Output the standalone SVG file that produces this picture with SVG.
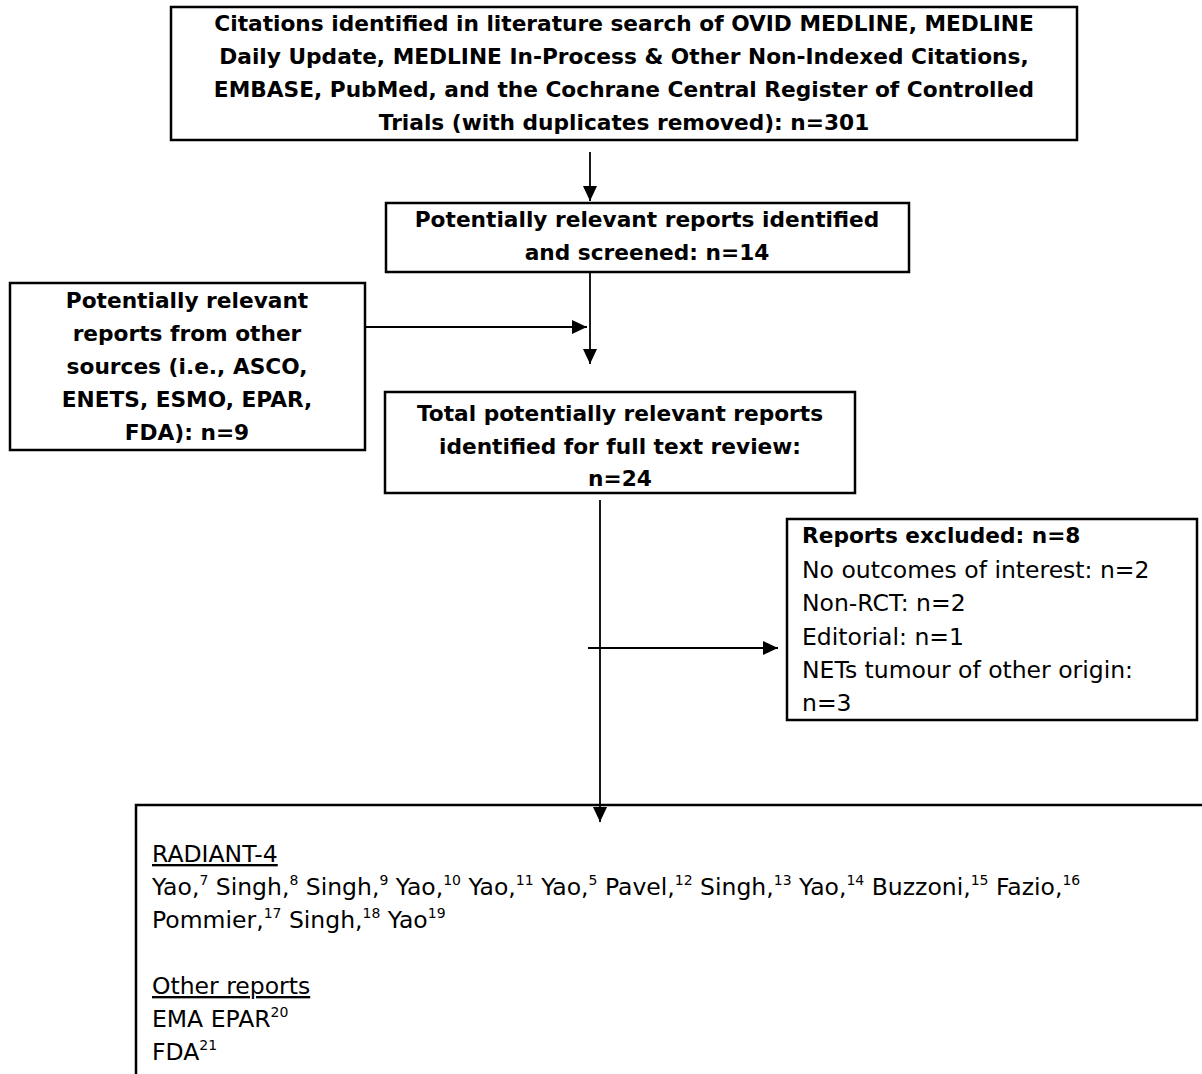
<svg xmlns="http://www.w3.org/2000/svg" width="1202" height="1074" viewBox="0 0 1202 1074">
<defs>
<marker id="ah" markerWidth="15" markerHeight="14" refX="15" refY="7" orient="auto" markerUnits="userSpaceOnUse"><path d="M0,0 L15,7 L0,14 z" fill="#000"/></marker>
<style>
.box{fill:#fff;stroke:#000;stroke-width:2.5}
.t{font-family:"DejaVu Sans",sans-serif;font-size:23.5px;fill:#000}
.b{font-weight:bold;font-size:21.7px;text-anchor:middle}
.sup{font-size:14px}
.c{stroke:#000;stroke-width:1.8;fill:none}
</style>
</defs>
<rect width="1202" height="1074" fill="#fff"/>
<g id="connectors">
<line class="c" x1="590" y1="152" x2="590" y2="201" marker-end="url(#ah)"/>
<line class="c" x1="590" y1="272" x2="590" y2="364" marker-end="url(#ah)"/>
<line class="c" x1="354" y1="327" x2="587" y2="327" marker-end="url(#ah)"/>
<line class="c" x1="600" y1="500" x2="600" y2="822" marker-end="url(#ah)"/>
<line class="c" x1="588" y1="648" x2="778" y2="648" marker-end="url(#ah)"/>
</g>
<g id="n1">
<rect class="box" x="171" y="7" width="906" height="133"/>
<text class="t b"><tspan x="624" y="31">Citations identified in literature search of OVID MEDLINE, MEDLINE</tspan><tspan x="624" y="64">Daily Update, MEDLINE In-Process &amp; Other Non-Indexed Citations,</tspan><tspan x="624" y="97">EMBASE, PubMed, and the Cochrane Central Register of Controlled</tspan><tspan x="624" y="130">Trials (with duplicates removed): n=301</tspan></text>
</g>
<g id="n2">
<rect class="box" x="386" y="203" width="523" height="69"/>
<text class="t b"><tspan x="647" y="227">Potentially relevant reports identified</tspan><tspan x="647" y="260">and screened: n=14</tspan></text>
</g>
<g id="n3">
<rect class="box" x="10" y="283" width="355" height="167"/>
<text class="t b"><tspan x="187" y="308">Potentially relevant</tspan><tspan x="187" y="341">reports from other</tspan><tspan x="187" y="374">sources (i.e., ASCO,</tspan><tspan x="187" y="407">ENETS, ESMO, EPAR,</tspan><tspan x="187" y="440">FDA): n=9</tspan></text>
</g>
<g id="n4">
<rect class="box" x="385" y="392" width="470" height="101"/>
<text class="t b"><tspan x="620" y="421">Total potentially relevant reports</tspan><tspan x="620" y="454">identified for full text review:</tspan><tspan x="620" y="486">n=24</tspan></text>
</g>
<g id="n5">
<rect class="box" x="787" y="519" width="410" height="201"/>
<text class="t"><tspan x="802" y="543" font-weight="bold" font-size="21.7px">Reports excluded: n=8</tspan><tspan x="802" y="578">No outcomes of interest: n=2</tspan><tspan x="802" y="611">Non-RCT: n=2</tspan><tspan x="802" y="645">Editorial: n=1</tspan><tspan x="802" y="678">NETs tumour of other origin:</tspan><tspan x="802" y="711">n=3</tspan></text>
</g>
<g id="n6">
<path d="M1202,805 H136 V1074" class="c" style="stroke-width:2.5"/>
<text class="t" x="152" y="862" text-decoration="underline">RADIANT-4</text>
<text class="t" x="152" y="895">Yao,<tspan class="sup" dy="-10">7</tspan><tspan dy="10"> Singh,</tspan><tspan class="sup" dy="-10">8</tspan><tspan dy="10"> Singh,</tspan><tspan class="sup" dy="-10">9</tspan><tspan dy="10"> Yao,</tspan><tspan class="sup" dy="-10">10</tspan><tspan dy="10"> Yao,</tspan><tspan class="sup" dy="-10">11</tspan><tspan dy="10"> Yao,</tspan><tspan class="sup" dy="-10">5</tspan><tspan dy="10"> Pavel,</tspan><tspan class="sup" dy="-10">12</tspan><tspan dy="10"> Singh,</tspan><tspan class="sup" dy="-10">13</tspan><tspan dy="10"> Yao,</tspan><tspan class="sup" dy="-10">14</tspan><tspan dy="10"> Buzzoni,</tspan><tspan class="sup" dy="-10">15</tspan><tspan dy="10"> Fazio,</tspan><tspan class="sup" dy="-10">16</tspan></text>
<text class="t" x="152" y="928">Pommier,<tspan class="sup" dy="-10">17</tspan><tspan dy="10"> Singh,</tspan><tspan class="sup" dy="-10">18</tspan><tspan dy="10"> Yao</tspan><tspan class="sup" dy="-10">19</tspan></text>
<text class="t" x="152" y="994" text-decoration="underline">Other reports</text>
<text class="t" x="152" y="1027">EMA EPAR<tspan class="sup" dy="-10">20</tspan></text>
<text class="t" x="152" y="1060">FDA<tspan class="sup" dy="-10">21</tspan></text>
</g>
</svg>
